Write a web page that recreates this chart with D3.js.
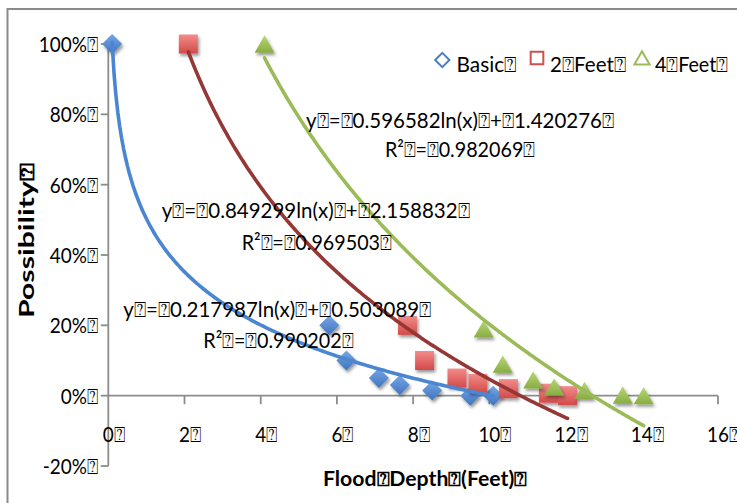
<!DOCTYPE html>
<html><head><meta charset="utf-8">
<script src="https://cdn.jsdelivr.net/npm/d3@7"></script>
<style>
body{margin:0;background:#fff;}
text{font-family:Lato,"Open Sans",sans-serif;fill:#000;}
</style>
</head><body>
<svg id="chart" width="737" height="503"></svg>
<script>
const BOX = "\u2370";
const xTicks = [0, 2, 4, 6, 8, 10, 12, 14, 16];
const yTicks = [-0.2, 0, 0.2, 0.4, 0.6, 0.8, 1.0];
const seriesNames = ["Basic", "2" + BOX + "Feet", "4" + BOX + "Feet"];
const basicX = [0.1, 5.8, 6.25, 7.1, 7.65, 8.5, 9.5, 10.1];
const basicY = [1.0, 0.2, 0.1, 0.05, 0.03, 0.015, 0.0, 0.0];
const feet2X = [2.1, 7.85, 8.3, 9.15, 9.7, 10.5, 11.55, 12.05];
const feet2Y = [1.0, 0.2, 0.1, 0.05, 0.035, 0.02, 0.007, 0.0];
const feet4X = [4.1, 9.85, 10.35, 11.15, 11.7, 12.5, 13.5, 14.05];
const feet4Y = [1.0, 0.19, 0.09, 0.045, 0.025, 0.015, 0.002, 0.0];
const trendA = [-0.217987, -0.596582, -0.849299];
const trendB = [0.503089, 1.420276, 2.158832];
const eqText = [
  "y" + BOX + "=" + BOX + "0.217987ln(x)" + BOX + "+" + BOX + "0.503089" + BOX,
  "y" + BOX + "=" + BOX + "0.849299ln(x)" + BOX + "+" + BOX + "2.158832" + BOX,
  "y" + BOX + "=" + BOX + "0.596582ln(x)" + BOX + "+" + BOX + "1.420276" + BOX
];
const r2Text = [
  "R\u00B2" + BOX + "=" + BOX + "0.990202" + BOX,
  "R\u00B2" + BOX + "=" + BOX + "0.969503" + BOX,
  "R\u00B2" + BOX + "=" + BOX + "0.982069" + BOX
];

const xs = [basicX, feet2X, feet4X];
const ys = [basicY, feet2Y, feet4Y];
const lineColors = ["#4A86D2", "#953735", "#9BBB59"];
const markTop = ["#78A6E6", "#F28C8A", "#B8D872"];
const markBot = ["#3F74BE", "#D24A48", "#88AD44"];

const svg = d3.select("#chart");
const W = 737, H = 503;
const x = d3.scaleLinear().domain([0, 16]).range([108.3, 718]);
const y = d3.scaleLinear().domain([-0.2, 1.0]).range([466, 44]);

const defs = svg.append("defs");
const f = defs.append("filter").attr("id", "sh").attr("x", "-50%").attr("y", "-50%").attr("width", "200%").attr("height", "200%");
f.append("feDropShadow").attr("dx", 1.5).attr("dy", 2.5).attr("stdDeviation", 1.4).attr("flood-color", "#000").attr("flood-opacity", 0.4);
markTop.forEach((c, i) => {
  const g = defs.append("linearGradient").attr("id", "g" + i).attr("x1", 0).attr("y1", 0).attr("x2", 0).attr("y2", 1);
  g.append("stop").attr("offset", "0%").attr("stop-color", c);
  g.append("stop").attr("offset", "100%").attr("stop-color", markBot[i]);
});

// outer border
svg.append("rect").attr("x", 7.5).attr("y", 9).attr("width", W).attr("height", H)
  .attr("fill", "none").attr("stroke", "#8A8A8A").attr("stroke-width", 2);

const FS = 22;
function condense(sel, k) {
  sel.each(function () {
    const n = this.getComputedTextLength();
    d3.select(this).attr("textLength", n * k).attr("lengthAdjust", "spacingAndGlyphs");
  });
}

// y axis
const axisCol = "#8C8C8C";
svg.append("line").attr("x1", x(0)).attr("x2", x(0)).attr("y1", y(-0.2)).attr("y2", y(1.0))
  .attr("stroke", axisCol).attr("stroke-width", 1.8);
yTicks.forEach(t => {
  svg.append("line").attr("x1", x(0) - 7.5).attr("x2", x(0)).attr("y1", y(t)).attr("y2", y(t))
    .attr("stroke", axisCol).attr("stroke-width", 1.8);
  const lab = svg.append("text").attr("x", 98).attr("y", y(t) + 8).attr("text-anchor", "end")
    .attr("font-size", FS).text(Math.round(t * 100) + "%" + BOX);
  condense(lab, 0.86);
});

// x axis
svg.append("line").attr("x1", x(0)).attr("x2", x(16)).attr("y1", y(0)).attr("y2", y(0))
  .attr("stroke", axisCol).attr("stroke-width", 1.8);
xTicks.forEach(t => {
  if (t > 0) svg.append("line").attr("x1", x(t)).attr("x2", x(t)).attr("y1", y(0)).attr("y2", y(0) + 8.5)
    .attr("stroke", axisCol).attr("stroke-width", 1.8);
  const lab = svg.append("text").attr("y", 441.5).attr("font-size", FS).text(String(t));
  const dw = lab.node().getComputedTextLength() * 0.86;
  lab.text(String(t) + BOX).attr("x", x(t) - dw / 2);
  condense(lab, 0.86);
});

// axis titles
const xt = svg.append("text").attr("x", 425).attr("y", 486).attr("text-anchor", "middle")
  .attr("font-size", 20).attr("font-weight", "bold").text("Flood" + BOX + "Depth" + BOX + "(Feet)" + BOX)
  .attr("textLength", 204).attr("lengthAdjust", "spacingAndGlyphs");
svg.append("text").attr("transform", "translate(33.5,240.5) rotate(-90)").attr("text-anchor", "middle")
  .attr("font-size", 20).attr("font-weight", "bold").text("Possibility" + BOX)
  .attr("textLength", 155).attr("lengthAdjust", "spacingAndGlyphs");

// markers
const symbols = [
  d3.symbol().type(d3.symbolDiamond2).size(255),
  d3.symbol().type(d3.symbolSquare).size(361),
  d3.symbol().type(d3.symbolTriangle).size(173)
];
const symOffset = [0, 0, 2.9];
[0, 1, 2].forEach(i => {
  svg.append("g").selectAll("path").data(xs[i].map((v, j) => [v, ys[i][j]])).join("path")
    .attr("d", symbols[i]())
    .attr("transform", d => `translate(${x(d[0])},${y(d[1]) + symOffset[i]})`)
    .attr("fill", `url(#g${i})`).attr("filter", "url(#sh)");
});

// trendlines
[0, 1, 2].forEach(i => {
  const x0 = d3.min(xs[i]), x1 = d3.max(xs[i]);
  const pts = d3.range(0, 201).map(k => {
    const xv = x0 + (x1 - x0) * k / 200;
    return [xv, trendA[i] * Math.log(xv) + trendB[i]];
  });
  svg.append("path").datum(pts)
    .attr("d", d3.line().x(d => x(d[0])).y(d => y(d[1])))
    .attr("fill", "none").attr("stroke", lineColors[i]).attr("stroke-width", 3.6)
    .attr("stroke-linecap", "round");
});

// trendline labels
const eqPos = [[123.3, 317, 203.3, 348], [161.7, 218, 241.7, 250], [306, 128, 385, 157]];
[0, 1, 2].forEach(i => {
  svg.append("text").attr("x", eqPos[i][0]).attr("y", eqPos[i][1]).attr("font-size", FS)
    .text(eqText[i]).attr("textLength", 308).attr("lengthAdjust", "spacingAndGlyphs");
  svg.append("text").attr("x", eqPos[i][2]).attr("y", eqPos[i][3]).attr("font-size", FS)
    .text(r2Text[i]).attr("textLength", 150).attr("lengthAdjust", "spacingAndGlyphs");
});

// legend
const legX = [442.3, 537, 642];
const legTextX = [456.5, 550, 655];
const legTextW = [60, 76, 73];
const legSym = [
  d3.symbol().type(d3.symbolDiamond2).size(130),
  d3.symbol().type(d3.symbolSquare).size(160),
  d3.symbol().type(d3.symbolTriangle).size(100)
];
const legOff = [0, -2, 0];
[0, 1, 2].forEach(i => {
  svg.append("path").attr("d", legSym[i]())
    .attr("transform", `translate(${legX[i]},${60 + legOff[i]})`)
    .attr("fill", "none").attr("stroke", i === 1 ? "#D0504D" : (i === 0 ? "#4A7EC0" : "#9BBB59"))
    .attr("stroke-width", 2);
  svg.append("text").attr("x", legTextX[i]).attr("y", 72).attr("font-size", FS)
    .text(seriesNames[i] + BOX).attr("textLength", legTextW[i]).attr("lengthAdjust", "spacingAndGlyphs");
});
</script>
</body></html>
